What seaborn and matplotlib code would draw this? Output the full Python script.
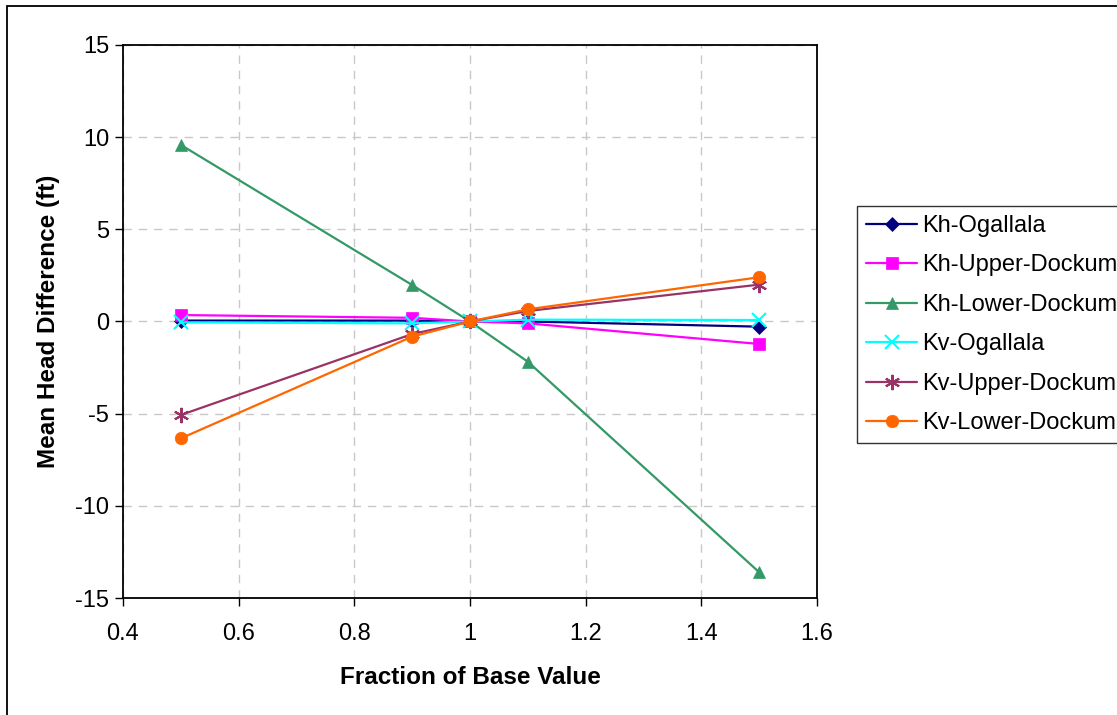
import matplotlib
matplotlib.use("Agg")
import matplotlib.pyplot as plt
import seaborn as sns
import pandas as pd
from matplotlib.patches import Rectangle

# data
fraction = [0.5, 0.9, 1.0, 1.1, 1.5]
kh_ogallala = [0.05, 0.05, 0.0, 0.0, -0.28]
kh_upper_dockum = [0.35, 0.2, 0.0, -0.1, -1.22]
kh_lower_dockum = [9.58, 1.98, 0.0, -2.18, -13.6]
kv_ogallala = [-0.05, -0.1, 0.0, 0.1, 0.08]
kv_upper_dockum = [-5.07, -0.68, 0.0, 0.57, 2.0]
kv_lower_dockum = [-6.34, -0.82, 0.0, 0.66, 2.4]

series_names = ["Kh-Ogallala", "Kh-Upper-Dockum", "Kh-Lower-Dockum",
                "Kv-Ogallala", "Kv-Upper-Dockum", "Kv-Lower-Dockum"]
series_values = [kh_ogallala, kh_upper_dockum, kh_lower_dockum,
                 kv_ogallala, kv_upper_dockum, kv_lower_dockum]
colors = ["#000080", "#FF00FF", "#339966", "#00FFFF", "#993366", "#FF6600"]
markers = ["D", "s", "^", "x", (6, 2, 0), "o"]
marker_sizes = [7, 8, 9, 10, 11, 9]

rows = []
for name, vals in zip(series_names, series_values):
    for x, y in zip(fraction, vals):
        rows.append({"Fraction": x, "Diff": y, "Series": name})
df = pd.DataFrame(rows)

sns.set_style("white")
plt.rcParams["font.family"] = ["Liberation Sans", "DejaVu Sans"]
plt.rcParams["axes.unicode_minus"] = False
plt.rcParams["text.color"] = "black"
plt.rcParams["axes.labelcolor"] = "black"

fig = plt.figure(figsize=(11.17, 7.15), dpi=100)
ax = fig.add_axes([0.1101, 0.1636, 0.6213, 0.7735])

for name, c, m, ms in zip(series_names, colors, markers, marker_sizes):
    sub = df[df["Series"] == name]
    sns.lineplot(data=sub, x="Fraction", y="Diff", ax=ax, color=c,
                 marker=m, markersize=ms, markeredgecolor=c,
                 markeredgewidth=1.5 if m in ("x", (6, 2, 0)) else 0.5,
                 linewidth=1.6, label=name, sort=False)

ax.set_xlim(0.4, 1.6)
ax.set_ylim(-15, 15)
ax.set_xticks([0.4, 0.6, 0.8, 1.0, 1.2, 1.4, 1.6])
ax.set_xticklabels(["0.4", "0.6", "0.8", "1", "1.2", "1.4", "1.6"])
ax.set_yticks([-15, -10, -5, 0, 5, 10, 15])
ax.grid(True, color="#c8c8c8", linestyle=(0, (6, 5)), linewidth=1)
ax.set_axisbelow(True)
for s in ax.spines.values():
    s.set_color("black")
    s.set_linewidth(1.3)
ax.tick_params(axis="both", direction="out", length=6, width=1,
               labelsize=17, colors="black", bottom=True, left=True)
ax.tick_params(axis="x", pad=12)
ax.tick_params(axis="y", pad=4)
ax.set_xlabel("Fraction of Base Value", fontsize=17.5, fontweight="bold", labelpad=15)
ax.set_ylabel("Mean Head Difference (ft)", fontsize=17.5, fontweight="bold", labelpad=11)

leg = ax.legend(loc="upper left", bbox_to_anchor=(1.058, 0.709), fontsize=17,
                frameon=True, fancybox=False, edgecolor="black",
                handlelength=2.15, handletextpad=0.2, labelspacing=0.74,
                borderpad=0.38, borderaxespad=0)
leg.get_frame().set_linewidth(1.0)

# outer chart frame (left and top edges visible, rest clipped)
fig.patches.append(Rectangle((7 / 1117, -0.05), 1.2, 1 - 6 / 715 + 0.05,
                             transform=fig.transFigure, fill=False,
                             edgecolor="black", linewidth=1.3, zorder=0))

fig.savefig("out.png", dpi=100)
plt.close(fig)
